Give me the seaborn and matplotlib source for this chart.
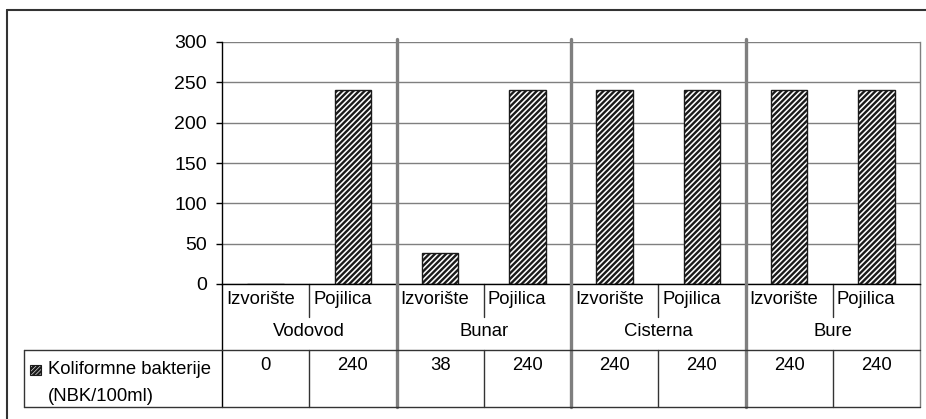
import matplotlib
matplotlib.use("Agg")
import matplotlib.pyplot as plt
import matplotlib.transforms as mtransforms
from matplotlib.patches import Rectangle
from matplotlib.lines import Line2D
import seaborn as sns
import pandas as pd

# Data
groups = ["Vodovod", "Bunar", "Cisterna", "Bure"]
sites = ["Izvorište", "Pojilica"]
values = [0, 240, 38, 240, 240, 240, 240, 240]
series_lines = ["Koliformne bakterije", "(NBK/100ml)"]
y_ticks = [0, 50, 100, 150, 200, 250, 300]

categories = [f"{g} {s}" for g in groups for s in sites]
df = pd.DataFrame({"kategorija": categories, "vrijednost": values})

sns.set_theme(style="white")
plt.rcParams["font.family"] = ["Liberation Sans", "DejaVu Sans"]
plt.rcParams["hatch.linewidth"] = 1.7
plt.rcParams["hatch.color"] = "#2b2b2b"

W, H = 926, 419
fig = plt.figure(figsize=(W / 100, H / 100), dpi=100)
fig.patch.set_facecolor("white")

LABEL_FS = 13.3
TICK_FS = 14

# Pixel geometry of the plot area
x0, x1, y_top, y_zero = 222, 920, 42, 284
ax = fig.add_axes([x0 / W, 1 - y_zero / H, (x1 - x0) / W, (y_zero - y_top) / H])

sns.barplot(data=df, x="kategorija", y="vrijednost", order=categories,
            color="white", edgecolor="#1a1a1a", linewidth=1.0, width=0.42,
            ax=ax, zorder=3)
for p in ax.patches:
    p.set_hatch("//////")
    p.set_facecolor("white")

ax.set_xlim(-0.5, len(categories) - 0.5)
ax.set_ylim(0, 300)
ax.set_yticks(y_ticks)
ax.set_yticklabels([str(v) for v in y_ticks], fontsize=TICK_FS)
ax.set_xticks([])
ax.set_xlabel("")
ax.set_ylabel("")
ax.tick_params(axis="y", which="both", left=True, length=4.3, width=1,
               color="black", pad=6.5, labelcolor="black")
ax.yaxis.grid(True, color="#7f7f7f", linewidth=1.0, zorder=1)
ax.set_axisbelow(True)
ax.spines["top"].set_visible(False)
ax.spines["left"].set_color("black")
ax.spines["left"].set_linewidth(1.0)
ax.spines["bottom"].set_color("black")
ax.spines["bottom"].set_linewidth(1.0)
ax.spines["bottom"].set_zorder(4)
ax.spines["right"].set_color("#7f7f7f")
ax.spines["right"].set_linewidth(1.0)

span = y_zero - y_top


def ay(ypix):
    """Pixel row to axes fraction."""
    return (y_zero - ypix) / span


trans = mtransforms.blended_transform_factory(ax.transData, ax.transAxes)
n = len(categories)

# Group dividers (thick grey)
for g in range(1, len(groups)):
    xd = 2 * g - 0.5
    ax.add_line(Line2D([xd, xd], [ay(39), ay(407)], transform=trans,
                       color="#7f7f7f", linewidth=2.4, clip_on=False, zorder=5))

# Separators between sites inside the label row
for g in range(len(groups)):
    xd = 2 * g + 0.5
    ax.add_line(Line2D([xd, xd], [0, ay(317)], transform=trans,
                       color="#333333", linewidth=1.0, clip_on=False))

# Table cell separators
for i in range(n - 1):
    xd = i + 0.5
    ax.add_line(Line2D([xd, xd], [ay(350), ay(407)], transform=trans,
                       color="#333333", linewidth=1.0, clip_on=False))

# Left and right edges down through the label/table area
ax.add_line(Line2D([-0.5, -0.5], [0, ay(407)], transform=trans,
                   color="black", linewidth=1.0, clip_on=False))
ax.add_line(Line2D([n - 0.5, n - 0.5], [0, ay(407)], transform=trans,
                   color="#7f7f7f", linewidth=1.0, clip_on=False))

# Site labels and table values
for i, cat in enumerate(categories):
    site = sites[i % 2]
    ax.text(i - 0.5 + 0.045, ay(299), site, transform=trans, ha="left",
            va="center", fontsize=LABEL_FS, color="black", clip_on=False)
    ax.text(i, ay(366), str(values[i]), transform=trans, ha="center",
            va="center", fontsize=LABEL_FS, color="black", clip_on=False)
# Group labels
for g, name in enumerate(groups):
    ax.text(2 * g + 0.5, ay(332), name, transform=trans, ha="center",
            va="center", fontsize=LABEL_FS, color="black", clip_on=False)


def fx(x):
    return x / W


def fy(y):
    return 1 - y / H


# Table horizontal lines and left border
for yy in (350, 407):
    fig.add_artist(Line2D([fx(24), fx(920)], [fy(yy), fy(yy)],
                          color="#333333", linewidth=1.0))
fig.add_artist(Line2D([fx(24), fx(24)], [fy(350), fy(407)],
                      color="#333333", linewidth=1.0))

# Legend key in the table
fig.add_artist(Rectangle((fx(30), fy(375)), fx(11), 10 / H, facecolor="white",
                         edgecolor="#1a1a1a", linewidth=0.8, hatch="////////",
                         transform=fig.transFigure))
fig.text(fx(48), fy(369), series_lines[0], ha="left", va="center",
         fontsize=LABEL_FS, color="black")
fig.text(fx(48), fy(396), series_lines[1], ha="left", va="center",
         fontsize=LABEL_FS, color="black")

# Outer chart frame
fig.add_artist(Line2D([fx(7), fx(926)], [fy(10), fy(10)], color="#333333",
                      linewidth=1.5))
fig.add_artist(Line2D([fx(7), fx(7)], [fy(10), fy(419)], color="#333333",
                      linewidth=1.5))

fig.savefig("out.png", dpi=100, facecolor="white")
